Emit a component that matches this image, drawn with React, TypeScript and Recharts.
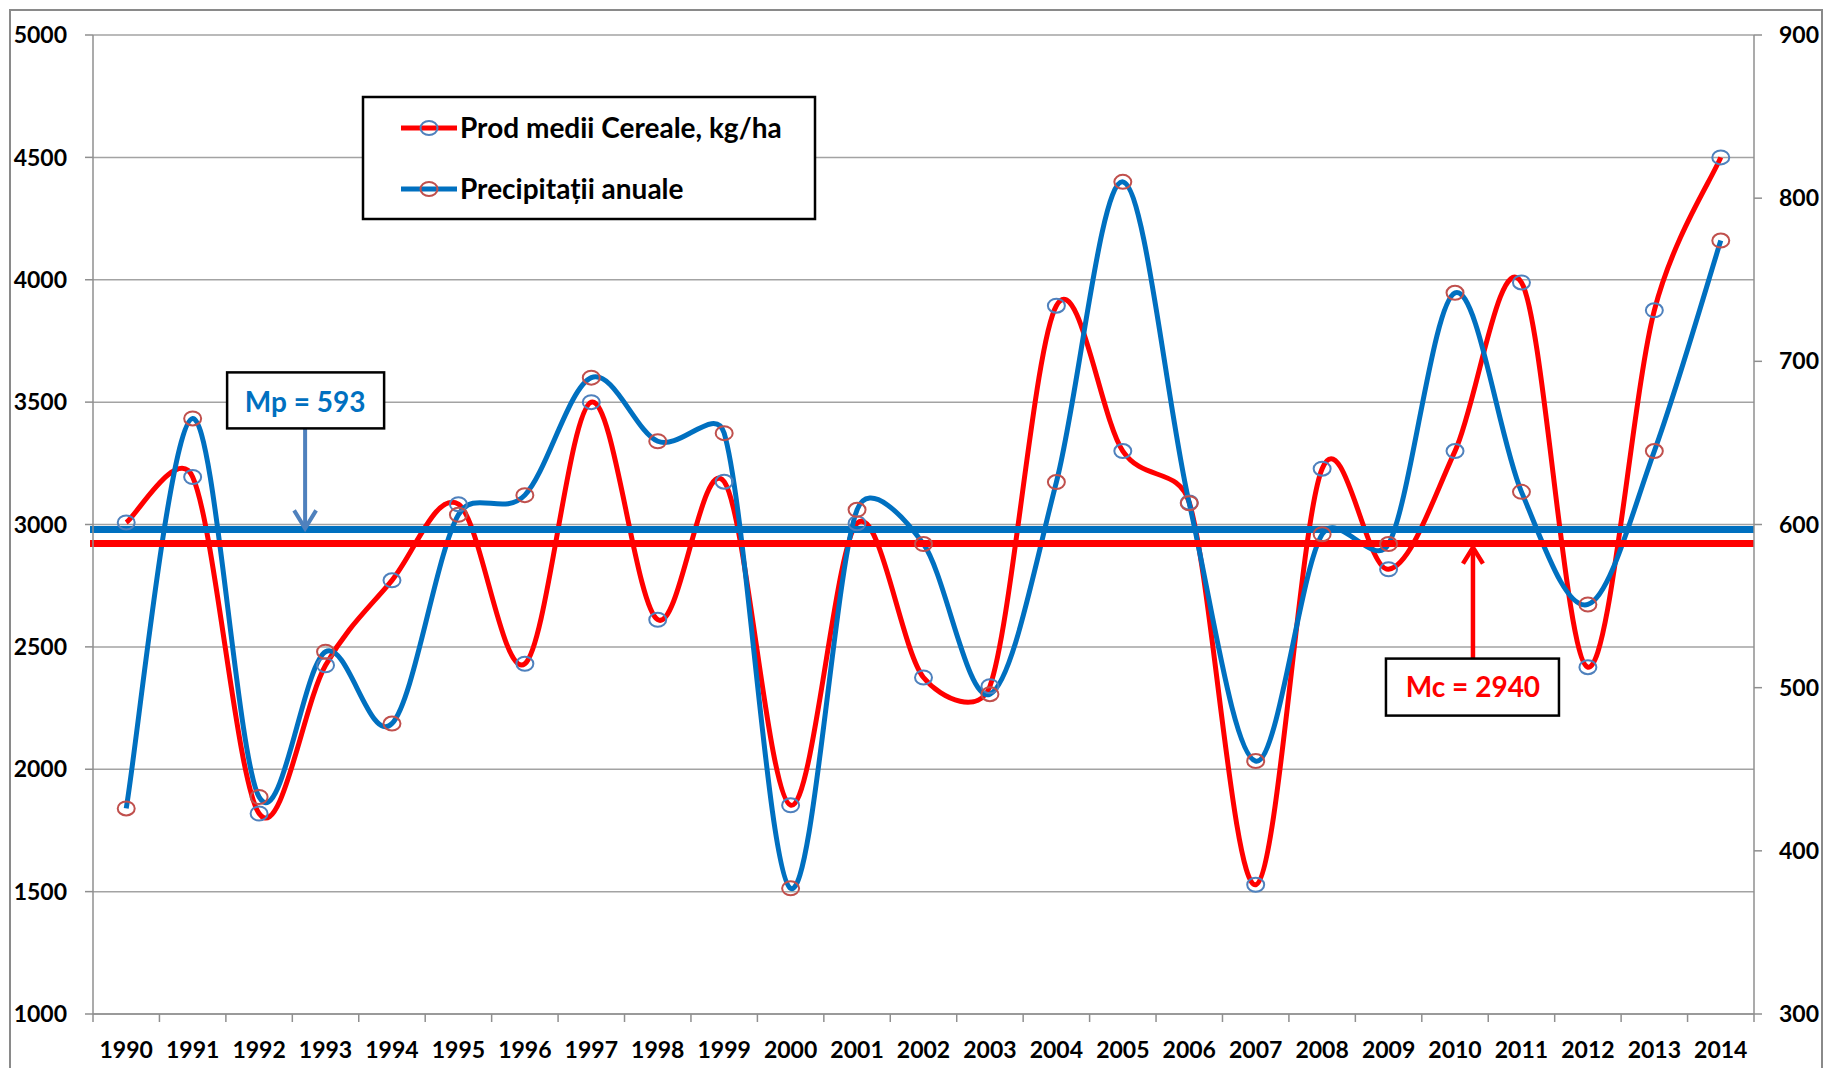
// Cereal yields vs annual precipitation, 1990-2014, two y axes with mean lines

import React from 'react';
import { LineChart, Line, XAxis, YAxis, CartesianGrid, ReferenceLine } from 'recharts';

const years = [
  '1990', '1991', '1992', '1993', '1994', '1995', '1996', '1997', '1998', '1999',
  '2000', '2001', '2002', '2003', '2004', '2005', '2006', '2007', '2008', '2009',
  '2010', '2011', '2012', '2013', '2014',
];

// Prod medii Cereale, kg/ha (left axis)
const prodCereale = [
  3008, 3194, 1819, 2425, 2772, 3083, 2431, 3500, 2611, 3175,
  1853, 3005, 2375, 2339, 3894, 3300, 3090, 1528, 3228, 2817,
  3300, 3989, 2417, 3875, 4500,
];

// Precipitații anuale, mm (right axis)
const precipitatii = [
  426, 665, 433, 522, 478, 606, 618, 690, 651, 656,
  377, 609, 588, 496, 626, 810, 613, 455, 594, 588,
  742, 620, 551, 645, 774,
];

const prodTicks = [1000, 1500, 2000, 2500, 3000, 3500, 4000, 4500, 5000];
const precipTicks = [300, 400, 500, 600, 700, 800, 900];

// mean lines, where they are drawn, and their labels
const prodMeanLine = 2922;
const precipMeanLine = 597;
const prodMeanLabel = 'Mc = 2940';
const precipMeanLabel = 'Mp = 593';

const legendNames = ['Prod medii Cereale, kg/ha', 'Precipitații anuale'];

const RED = '#FF0000';
const BLUE = '#0070C0';
const MARK_BLUE = '#4F81BD';
const MARK_RED = '#C0504D';
const GRAY = '#8f8f8f';
const FONT = 'Lato, "DejaVu Sans", sans-serif';

const W = 1824;
const H = 1068;
const PLOT_LEFT = 93;
const PLOT_RIGHT = 1754;
const PLOT_TOP = 35;
const PLOT_BOTTOM = 1014;
const HALF_BAND = (PLOT_RIGHT - PLOT_LEFT) / years.length / 2;

const chartData = years.map((year, i) => ({
  year,
  prod: prodCereale[i],
  precip: precipitatii[i],
}));

// Excel-like smoothed line: Catmull-Rom handles, shortened next to steep neighbours
const excelCurve: any = (context: any) => {
  let pts: number[][] = [];
  const dist = (a: number[], b: number[]) => Math.hypot(b[0] - a[0], b[1] - a[1]);
  const handle = (from: number[], prev: number[], next: number[], segLen: number) => {
    const vx = next[0] - prev[0];
    const vy = next[1] - prev[1];
    const len = Math.hypot(vx, vy);
    if (!len) return [0, 0];
    const f = Math.min(1 / 6, (0.45 * segLen) / len);
    return [vx * f, vy * f];
  };
  return {
    areaStart() {},
    areaEnd() {},
    lineStart() { pts = []; },
    point(x: number, y: number) { pts.push([+x, +y]); },
    lineEnd() {
      const n = pts.length;
      if (!n) return;
      context.moveTo(pts[0][0], pts[0][1]);
      for (let i = 0; i < n - 1; i++) {
        const p0 = pts[Math.max(i - 1, 0)];
        const p1 = pts[i];
        const p2 = pts[i + 1];
        const p3 = pts[Math.min(i + 2, n - 1)];
        const seg = dist(p1, p2);
        const h1 = handle(p1, p0, p2, seg);
        const h2 = handle(p2, p1, p3, seg);
        context.bezierCurveTo(
          p1[0] + h1[0], p1[1] + h1[1],
          p2[0] - h2[0], p2[1] - h2[1],
          p2[0], p2[1],
        );
      }
    },
  };
};

const ringDot = (color: string) => (p: any) => (
  <ellipse
    key={`dot-${color}-${p.index}`}
    cx={p.cx}
    cy={p.cy}
    rx={8.5}
    ry={7}
    fill="none"
    stroke={color}
    strokeWidth={2}
  />
);

const YearTick = ({ x, y, payload, index }: any) => (
  <g>
    <line x1={x - HALF_BAND} x2={x - HALF_BAND} y1={y} y2={y + 8} stroke={GRAY} strokeWidth={1.5} />
    {index === years.length - 1 && (
      <line x1={x + HALF_BAND} x2={x + HALF_BAND} y1={y} y2={y + 8} stroke={GRAY} strokeWidth={1.5} />
    )}
    <text x={x} y={y + 44} textAnchor="middle" fontFamily={FONT} fontWeight={700} fontSize={23} fill="#000">
      {payload.value}
    </text>
  </g>
);

const MpShape = (p: any) => {
  const left = Math.min(p.x1, p.x2);
  const right = Math.max(p.x1, p.x2);
  const y = p.y1;
  const ax = left + (right - left) * 0.1277;
  const boxBottom = y - 101;
  return (
    <g>
      <line x1={left - 3} x2={right} y1={y} y2={y} stroke={BLUE} strokeWidth={7} />
      <line x1={ax} x2={ax} y1={boxBottom} y2={y - 2} stroke={MARK_BLUE} strokeWidth={4} />
      <polyline
        points={`${ax - 11},${y - 19} ${ax},${y - 1} ${ax + 11},${y - 19}`}
        fill="none"
        stroke={MARK_BLUE}
        strokeWidth={4}
      />
      <rect x={ax - 78} y={boxBottom - 56} width={157} height={56} fill="#fff" stroke="#000" strokeWidth={2.5} />
      <text x={ax} y={boxBottom - 16} textAnchor="middle" fontFamily={FONT} fontWeight={700} fontSize={28} fill={BLUE}>
        {precipMeanLabel}
      </text>
    </g>
  );
};

const McShape = (p: any) => {
  const left = Math.min(p.x1, p.x2);
  const right = Math.max(p.x1, p.x2);
  const y = p.y1;
  const ax = left + (right - left) * 0.8308;
  const boxTop = y + 115;
  return (
    <g>
      <line x1={left - 3} x2={right} y1={y} y2={y} stroke={RED} strokeWidth={7} />
      <line x1={ax} x2={ax} y1={boxTop} y2={y + 5} stroke={RED} strokeWidth={4.5} />
      <polyline
        points={`${ax - 10},${y + 20} ${ax},${y + 4} ${ax + 10},${y + 20}`}
        fill="none"
        stroke={RED}
        strokeWidth={4.5}
      />
      <rect x={ax - 87} y={boxTop} width={173} height={57} fill="#fff" stroke="#000" strokeWidth={2.5} />
      <text x={ax} y={boxTop + 38} textAnchor="middle" fontFamily={FONT} fontWeight={700} fontSize={28} fill={RED}>
        {prodMeanLabel}
      </text>
    </g>
  );
};

const legendItems = [
  { name: legendNames[0], line: RED, mark: MARK_BLUE },
  { name: legendNames[1], line: BLUE, mark: MARK_RED },
];

export default function App() {
  const axisTick = { fill: '#000', fontSize: 23, fontWeight: 700, fontFamily: FONT };

  return (
    <div style={{ position: 'absolute', left: 0, top: 0, width: W, height: H, background: '#fff' }}>
      <LineChart
        width={W}
        height={H}
        data={chartData}
        margin={{ top: PLOT_TOP, right: 0, bottom: 0, left: 0 }}
      >
        <CartesianGrid yAxisId="left" vertical={false} stroke="#a3a3a3" strokeWidth={1.5} />
        <XAxis
          dataKey="year"
          height={H - PLOT_BOTTOM}
          padding={{ left: HALF_BAND, right: HALF_BAND }}
          interval={0}
          tickLine={false}
          tickSize={0}
          tickMargin={0}
          stroke={GRAY}
          strokeWidth={1.5}
          tick={<YearTick />}
        />
        <YAxis
          yAxisId="left"
          width={PLOT_LEFT}
          domain={[1000, 5000]}
          ticks={prodTicks}
          interval={0}
          tickSize={8}
          tickMargin={18}
          stroke={GRAY}
          strokeWidth={1.5}
          tick={axisTick}
        />
        <YAxis
          yAxisId="right"
          orientation="right"
          width={W - PLOT_RIGHT}
          domain={[300, 900]}
          ticks={precipTicks}
          interval={0}
          tickSize={8}
          tickMargin={17}
          stroke={GRAY}
          strokeWidth={1.5}
          tick={axisTick}
        />
        <Line
          yAxisId="left"
          dataKey="prod"
          type={excelCurve}
          stroke={RED}
          strokeWidth={5}
          dot={ringDot(MARK_BLUE)}
          activeDot={false}
          isAnimationActive={false}
        />
        <Line
          yAxisId="right"
          dataKey="precip"
          type={excelCurve}
          stroke={BLUE}
          strokeWidth={5}
          dot={ringDot(MARK_RED)}
          activeDot={false}
          isAnimationActive={false}
        />
        <ReferenceLine yAxisId="right" y={precipMeanLine} shape={MpShape} />
        <ReferenceLine yAxisId="left" y={prodMeanLine} shape={McShape} />
      </LineChart>

      <svg width={W} height={H} style={{ position: 'absolute', left: 0, top: 0, pointerEvents: 'none' }}>
        <rect x={10} y={10} width={1812} height={1100} fill="none" stroke="#8a8a8a" strokeWidth={2} />
        <rect x={363} y={97} width={452} height={122} fill="#fff" stroke="#000" strokeWidth={2.5} />
        {legendItems.map((item, i) => {
          const cy = 128 + i * 61;
          return (
            <g key={item.name}>
              <line x1={401} x2={457} y1={cy} y2={cy} stroke={item.line} strokeWidth={5} />
              <ellipse cx={429} cy={cy} rx={8.5} ry={7} fill="none" stroke={item.mark} strokeWidth={2} />
              <text x={460} y={cy + 10} fontFamily={FONT} fontWeight={700} fontSize={28} fill="#000">
                {item.name}
              </text>
            </g>
          );
        })}
      </svg>
    </div>
  );
}
